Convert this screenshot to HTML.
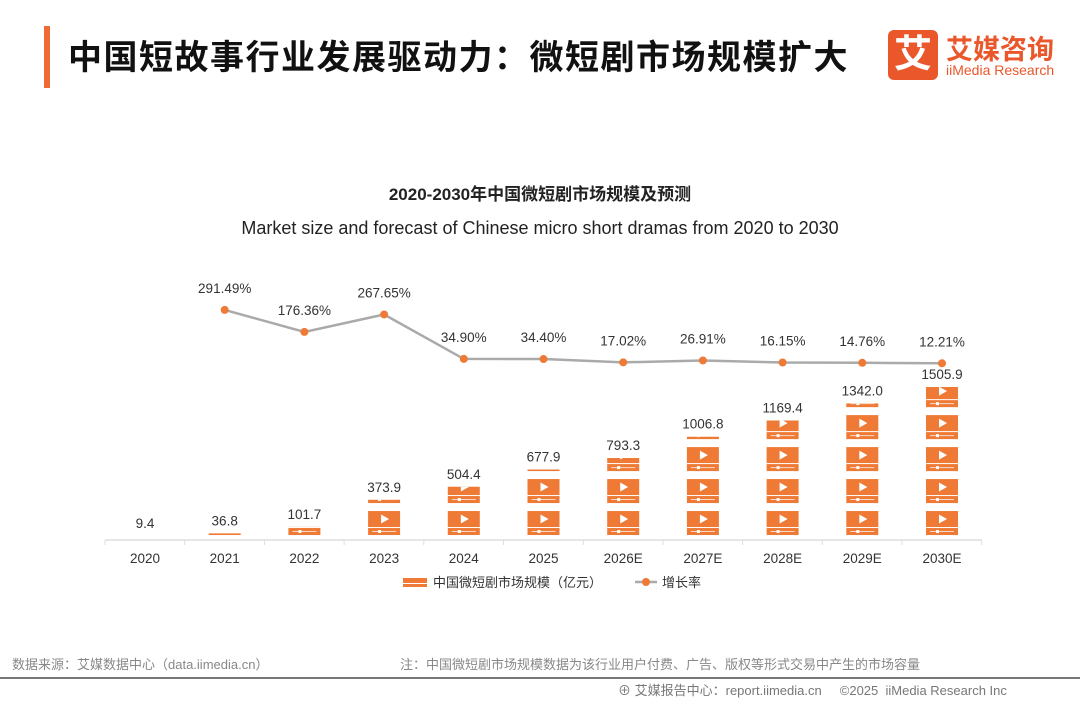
<!DOCTYPE html>
<html><head><meta charset="utf-8"><style>
body{margin:0;width:1080px;height:702px;background:#fff;overflow:hidden;font-family:"Liberation Sans","Noto Sans CJK SC",sans-serif;position:relative}
.abs{position:absolute}
</style></head><body>
<div class="abs" style="left:44px;top:26px;width:6px;height:62px;background:#f06a35"></div>
<div class="abs" style="left:68px;top:30px;font-size:34px;font-weight:bold;color:#111;letter-spacing:1.5px">中国短故事行业发展驱动力：微短剧市场规模扩大</div>
<div class="abs" style="left:888px;top:30px;width:50px;height:50px;background:#e9572b;border-radius:6px;color:#fff;font-size:38px;font-weight:bold;text-align:center;line-height:50px">艾</div>
<div class="abs" style="left:946px;top:28px;font-size:27px;font-weight:bold;color:#e9572b">艾媒咨询</div>
<div class="abs" style="left:946px;top:62px;font-size:14px;color:#e9572b">iiMedia Research</div>
<svg class="abs" style="left:0;top:0" width="1080" height="702">
<defs>
<g id="icon">
<rect x="0" y="0" width="32" height="16" fill="#ee7a35"/>
<polygon points="13,3.5 13,12.5 21,8" fill="#fff"/>
<rect x="0" y="17" width="32" height="7" fill="#ee7a35"/>
<line x1="4" y1="20.5" x2="28" y2="20.5" stroke="#fbd9c4" stroke-width="1"/>
<rect x="10" y="19" width="3" height="3" fill="#fff"/>
</g>
</defs>
<text x="540" y="200" text-anchor="middle" font-size="17" font-weight="bold" fill="#222">2020-2030年中国微短剧市场规模及预测</text>
<text x="540" y="234" text-anchor="middle" font-size="18" fill="#222">Market size and forecast of Chinese micro short dramas from 2020 to 2030</text>
<g id="plot"></g>
<g>
<rect x="403" y="578" width="24" height="5" fill="#ee7a35"/><rect x="403" y="584" width="24" height="3" fill="#ee7a35"/>
<text x="433" y="587" font-size="13" fill="#333">中国微短剧市场规模（亿元）</text>
<line x1="635" y1="582" x2="657" y2="582" stroke="#aaa" stroke-width="2.5"/><circle cx="646" cy="582" r="4" fill="#ee7a35"/>
<text x="662" y="587" font-size="13" fill="#333">增长率</text>
</g>
<line x1="0" y1="678" x2="1080" y2="678" stroke="#777" stroke-width="2"/>
</svg>
<div class="abs" style="left:12px;top:654px;font-size:13px;color:#888">数据来源：艾媒数据中心（data.iimedia.cn）</div>
<div class="abs" style="left:400px;top:654px;font-size:13px;color:#888">注：中国微短剧市场规模数据为该行业用户付费、广告、版权等形式交易中产生的市场容量</div>
<div class="abs" style="left:618px;top:680px;font-size:13px;color:#777">⊕ 艾媒报告中心：report.iimedia.cn &nbsp;&nbsp;&nbsp; ©2025 &nbsp;iiMedia Research Inc</div>
<script>
const categories=["2020","2021","2022","2023","2024","2025","2026E","2027E","2028E","2029E","2030E"];
const marketSize=[9.4,36.8,101.7,373.9,504.4,677.9,793.3,1006.8,1169.4,1342.0,1505.9];
const marketLabels=["9.4","36.8","101.7","373.9","504.4","677.9","793.3","1006.8","1169.4","1342.0","1505.9"];
const growth=[null,291.49,176.36,267.65,34.90,34.40,17.02,26.91,16.15,14.76,12.21];
const unitPerIcon=321;
const NS="http://www.w3.org/2000/svg";
const g=document.getElementById('plot');
const x=i=>145+i*79.7;
const yb=v=>539-v*0.0996;
const yl=v=>365.6-v*0.191;
function mk(t,a){const e=document.createElementNS(NS,t);for(const k in a)e.setAttribute(k,a[k]);g.appendChild(e);return e;}
const ax=mk('line',{x1:105,y1:540,x2:982,y2:540,stroke:'#ddd','stroke-width':1.5});


for(let i=0;i<=categories.length;i++){const tk=mk('line',{x1:105+i*79.7,y1:540,x2:105+i*79.7,y2:545,stroke:'#ddd'});

}
const cellH=unitPerIcon*0.0996;
categories.forEach((c,i)=>{
 const t=mk('text',{x:x(i),y:563,'text-anchor':'middle','font-size':13.5,fill:'#333'});t.textContent=c;
 
 
 const cid='clip'+i;
 const cp=mk('clipPath',{id:cid});
 const top=yb(marketSize[i])-2;
 const r=document.createElementNS(NS,'rect');r.setAttribute('x',x(i)-20);r.setAttribute('y',top);r.setAttribute('width',40);r.setAttribute('height',539-top);cp.appendChild(r);
 const bar=mk('g',{'clip-path':'url(#'+cid+')'});
 
 
 const n=Math.ceil(marketSize[i]/unitPerIcon);
 for(let k=0;k<n;k++){const u=document.createElementNS(NS,'use');u.setAttribute('href','#icon');
  u.setAttribute('x',x(i)-16);u.setAttribute('y',539-(k+1)*cellH+4);bar.appendChild(u);}
 const lb=mk('text',{x:x(i),y:yb(marketSize[i])-10,'text-anchor':'middle','font-size':13.5,fill:'#333'});lb.textContent=marketLabels[i];
 
 
});
let pts=[];growth.forEach((v,i)=>{if(v!=null)pts.push(x(i)+','+yl(v));});
const pl=mk('polyline',{points:pts.join(' '),fill:'none',stroke:'#aaa','stroke-width':2.5});


growth.forEach((v,i)=>{if(v==null)return;
 const p=mk('circle',{cx:x(i),cy:yl(v),r:4,fill:'#ee7a35'});
 
 
 const t=mk('text',{x:x(i),y:yl(v)-17,'text-anchor':'middle','font-size':13.5,fill:'#333'});t.textContent=v.toFixed(2)+'%';
 
 
});
</script>
</body></html>
